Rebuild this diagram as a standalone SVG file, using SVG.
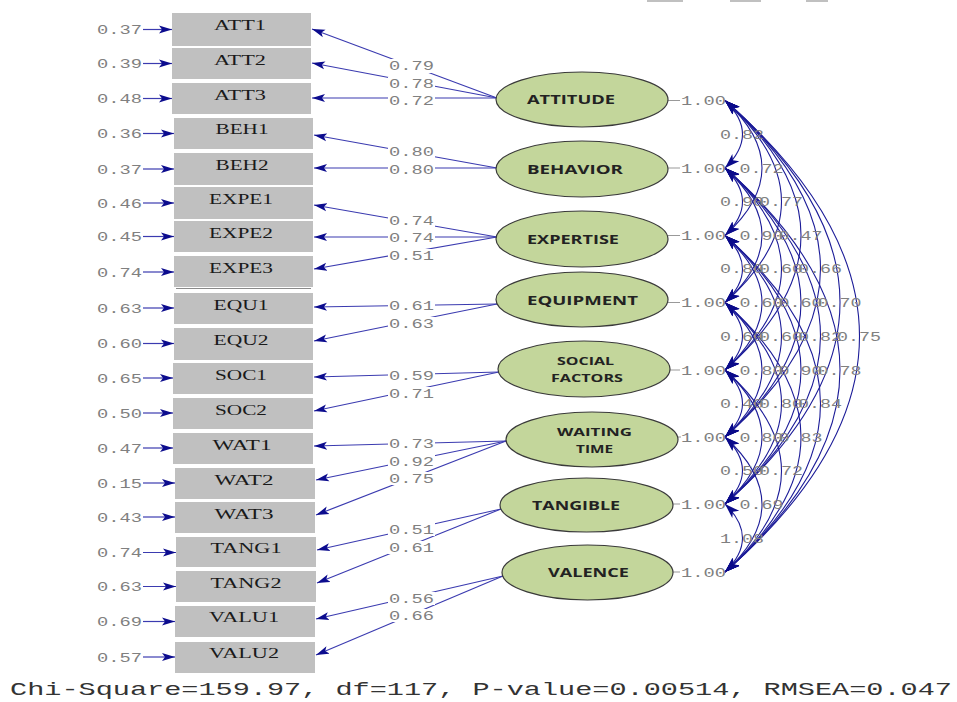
<svg xmlns="http://www.w3.org/2000/svg" width="957" height="702" viewBox="0 0 957 702">
<style>
.box{fill:#c0c0c0}
.bl{font-family:"Liberation Serif","Times New Roman",serif;font-size:14.5px;fill:#1a1a1a;text-anchor:middle}
.num{font-family:"Liberation Mono","Courier New",monospace;font-size:13px;fill:#808080}
.lat{fill:#c3d69b;stroke:#3a3a3a;stroke-width:1.2}
.lt{font-family:"Open Sans","Liberation Sans",Arial,sans-serif;font-weight:700;font-size:13px;fill:#222}
.lts{font-family:"Open Sans","Liberation Sans",Arial,sans-serif;font-weight:700;font-size:11px;fill:#222}
.ld{stroke:#3b3bb0;stroke-width:1.2;fill:none}
.cv{stroke:#1c1c98;stroke-width:1.1;fill:none}
.var{stroke:#999;stroke-width:1}
.bg{fill:#fff}
</style>
<defs>
<marker id="ah" markerWidth="14" markerHeight="9" refX="13" refY="4.5" orient="auto-start-reverse" markerUnits="userSpaceOnUse"><path d="M0,0.5 L13,4.5 L0,8.5 L3,4.5 z" fill="#0c0c8e"/></marker>
<marker id="ahc" markerWidth="16" markerHeight="11" refX="15" refY="5.5" orient="auto-start-reverse" markerUnits="userSpaceOnUse"><path d="M0,0.5 L15,5.5 L0,10.5 L4,5.5 z" fill="#0a0a8a"/></marker>
</defs>
<rect class="box" x="647" y="0" width="36" height="2"/>
<rect class="box" x="730" y="0" width="31" height="2"/>
<rect class="box" x="806" y="0" width="22" height="2"/>
<g id="connectors">
<g class="ld" marker-end="url(#ah)">
<line x1="497" y1="98" x2="312" y2="29"/>
<line x1="497" y1="98" x2="312" y2="63"/>
<line x1="497" y1="98" x2="312" y2="98"/>
<line x1="497" y1="168" x2="314" y2="135"/>
<line x1="497" y1="168" x2="314" y2="168"/>
<line x1="497" y1="237" x2="314" y2="205"/>
<line x1="497" y1="237" x2="314" y2="237"/>
<line x1="497" y1="237" x2="314" y2="269"/>
<line x1="497" y1="304" x2="314" y2="307"/>
<line x1="497" y1="304" x2="314" y2="341"/>
<line x1="499" y1="372" x2="314" y2="377"/>
<line x1="499" y1="372" x2="314" y2="411"/>
<line x1="506" y1="441" x2="314" y2="446"/>
<line x1="506" y1="441" x2="316" y2="480"/>
<line x1="506" y1="441" x2="316" y2="515"/>
<line x1="501" y1="509" x2="317" y2="550"/>
<line x1="501" y1="509" x2="317" y2="583"/>
<line x1="503" y1="576" x2="316" y2="619"/>
<line x1="503" y1="576" x2="316" y2="655"/>
</g>
<g class="ld" marker-end="url(#ah)">
<line x1="143" y1="29.5" x2="172" y2="29.5"/>
<line x1="143" y1="63.5" x2="172" y2="63.5"/>
<line x1="143" y1="98.5" x2="172" y2="98.5"/>
<line x1="143" y1="133.5" x2="174" y2="133.5"/>
<line x1="143" y1="169" x2="174" y2="169"/>
<line x1="143" y1="203" x2="174" y2="203"/>
<line x1="143" y1="236.5" x2="174" y2="236.5"/>
<line x1="143" y1="272" x2="174" y2="272"/>
<line x1="143" y1="308" x2="174" y2="308"/>
<line x1="143" y1="343.5" x2="174" y2="343.5"/>
<line x1="143" y1="378" x2="173" y2="378"/>
<line x1="143" y1="413" x2="173" y2="413"/>
<line x1="143" y1="448" x2="173" y2="448"/>
<line x1="143" y1="483" x2="175" y2="483"/>
<line x1="143" y1="517" x2="175" y2="517"/>
<line x1="143" y1="552.5" x2="176" y2="552.5"/>
<line x1="143" y1="586.5" x2="176" y2="586.5"/>
<line x1="143" y1="621.5" x2="175" y2="621.5"/>
<line x1="143" y1="657" x2="175" y2="657"/>
</g>
<g class="var">
<line x1="668" y1="100.5" x2="680" y2="100.5"/>
<line x1="668" y1="168" x2="680" y2="168"/>
<line x1="668" y1="235.5" x2="680" y2="235.5"/>
<line x1="668" y1="302.5" x2="680" y2="302.5"/>
<line x1="670" y1="370" x2="680" y2="370"/>
<line x1="678" y1="437" x2="681" y2="437"/>
<line x1="673" y1="504" x2="680" y2="504"/>
<line x1="673" y1="572" x2="680" y2="572"/>
</g>
<g class="cv" marker-start="url(#ahc)" marker-end="url(#ahc)">
<path d="M725,100.5 Q760,134.25 725,168"/>
<path d="M725,100.5 Q799,168 725,235.5"/>
<path d="M725,100.5 Q838,201.5 725,302.5"/>
<path d="M725,100.5 Q877,235.25 725,370"/>
<path d="M725,100.5 Q916,268.75 725,437"/>
<path d="M725,100.5 Q955,302.25 725,504"/>
<path d="M725,100.5 Q994,336.25 725,572"/>
<path d="M725,168 Q760,201.75 725,235.5"/>
<path d="M725,168 Q799,235.25 725,302.5"/>
<path d="M725,168 Q838,269 725,370"/>
<path d="M725,168 Q877,302.5 725,437"/>
<path d="M725,168 Q916,336 725,504"/>
<path d="M725,168 Q955,370 725,572"/>
<path d="M725,235.5 Q760,269 725,302.5"/>
<path d="M725,235.5 Q799,302.75 725,370"/>
<path d="M725,235.5 Q838,336.25 725,437"/>
<path d="M725,235.5 Q877,369.75 725,504"/>
<path d="M725,235.5 Q916,403.75 725,572"/>
<path d="M725,302.5 Q760,336.25 725,370"/>
<path d="M725,302.5 Q799,369.75 725,437"/>
<path d="M725,302.5 Q838,403.25 725,504"/>
<path d="M725,302.5 Q877,437.25 725,572"/>
<path d="M725,370 Q760,403.5 725,437"/>
<path d="M725,370 Q799,437 725,504"/>
<path d="M725,370 Q838,471 725,572"/>
<path d="M725,437 Q760,470.5 725,504"/>
<path d="M725,437 Q799,504.5 725,572"/>
<path d="M725,504 Q760,538 725,572"/>
</g>
</g>
<g id="error-labels" class="num">
<text x="97" y="34" textLength="45" lengthAdjust="spacingAndGlyphs">0.37</text>
<text x="97" y="68" textLength="45" lengthAdjust="spacingAndGlyphs">0.39</text>
<text x="97" y="103" textLength="45" lengthAdjust="spacingAndGlyphs">0.48</text>
<text x="97" y="138" textLength="45" lengthAdjust="spacingAndGlyphs">0.36</text>
<text x="97" y="173.5" textLength="45" lengthAdjust="spacingAndGlyphs">0.37</text>
<text x="97" y="207.5" textLength="45" lengthAdjust="spacingAndGlyphs">0.46</text>
<text x="97" y="241" textLength="45" lengthAdjust="spacingAndGlyphs">0.45</text>
<text x="97" y="276.5" textLength="45" lengthAdjust="spacingAndGlyphs">0.74</text>
<text x="97" y="312.5" textLength="45" lengthAdjust="spacingAndGlyphs">0.63</text>
<text x="97" y="348" textLength="45" lengthAdjust="spacingAndGlyphs">0.60</text>
<text x="97" y="382.5" textLength="45" lengthAdjust="spacingAndGlyphs">0.65</text>
<text x="97" y="417.5" textLength="45" lengthAdjust="spacingAndGlyphs">0.50</text>
<text x="97" y="452.5" textLength="45" lengthAdjust="spacingAndGlyphs">0.47</text>
<text x="97" y="487.5" textLength="45" lengthAdjust="spacingAndGlyphs">0.15</text>
<text x="97" y="521.5" textLength="45" lengthAdjust="spacingAndGlyphs">0.43</text>
<text x="97" y="557" textLength="45" lengthAdjust="spacingAndGlyphs">0.74</text>
<text x="97" y="591" textLength="45" lengthAdjust="spacingAndGlyphs">0.63</text>
<text x="97" y="626" textLength="45" lengthAdjust="spacingAndGlyphs">0.69</text>
<text x="97" y="661.5" textLength="45" lengthAdjust="spacingAndGlyphs">0.57</text>
</g>
<g id="loading-labels">
<g class="bg">
<rect x="388" y="59" width="47" height="14"/>
<rect x="388" y="77" width="47" height="13"/>
<rect x="388" y="94" width="47" height="13"/>
<rect x="388" y="145" width="47" height="13"/>
<rect x="388" y="163" width="47" height="13"/>
<rect x="388" y="214" width="47" height="13"/>
<rect x="388" y="231" width="47" height="13"/>
<rect x="388" y="249" width="47" height="13"/>
<rect x="388" y="299" width="47" height="13"/>
<rect x="388" y="317" width="47" height="13"/>
<rect x="388" y="369" width="47" height="13"/>
<rect x="388" y="387" width="47" height="13"/>
<rect x="388" y="437" width="47" height="13"/>
<rect x="388" y="455" width="47" height="13"/>
<rect x="388" y="472" width="47" height="13"/>
<rect x="388" y="523" width="47" height="13"/>
<rect x="388" y="541" width="47" height="13"/>
<rect x="388" y="592" width="47" height="13"/>
<rect x="388" y="609" width="47" height="13"/>
</g>
<g class="num">
<text x="389" y="70" textLength="45" lengthAdjust="spacingAndGlyphs">0.79</text>
<text x="389" y="87.5" textLength="45" lengthAdjust="spacingAndGlyphs">0.78</text>
<text x="389" y="104.5" textLength="45" lengthAdjust="spacingAndGlyphs">0.72</text>
<text x="389" y="155.5" textLength="45" lengthAdjust="spacingAndGlyphs">0.80</text>
<text x="389" y="173.5" textLength="45" lengthAdjust="spacingAndGlyphs">0.80</text>
<text x="389" y="224.5" textLength="45" lengthAdjust="spacingAndGlyphs">0.74</text>
<text x="389" y="241.5" textLength="45" lengthAdjust="spacingAndGlyphs">0.74</text>
<text x="389" y="259.5" textLength="45" lengthAdjust="spacingAndGlyphs">0.51</text>
<text x="389" y="309.5" textLength="45" lengthAdjust="spacingAndGlyphs">0.61</text>
<text x="389" y="327.5" textLength="45" lengthAdjust="spacingAndGlyphs">0.63</text>
<text x="389" y="379.5" textLength="45" lengthAdjust="spacingAndGlyphs">0.59</text>
<text x="389" y="397.5" textLength="45" lengthAdjust="spacingAndGlyphs">0.71</text>
<text x="389" y="447.5" textLength="45" lengthAdjust="spacingAndGlyphs">0.73</text>
<text x="389" y="465.5" textLength="45" lengthAdjust="spacingAndGlyphs">0.92</text>
<text x="389" y="482.5" textLength="45" lengthAdjust="spacingAndGlyphs">0.75</text>
<text x="389" y="533.5" textLength="45" lengthAdjust="spacingAndGlyphs">0.51</text>
<text x="389" y="551.5" textLength="45" lengthAdjust="spacingAndGlyphs">0.61</text>
<text x="389" y="602.5" textLength="45" lengthAdjust="spacingAndGlyphs">0.56</text>
<text x="389" y="619.5" textLength="45" lengthAdjust="spacingAndGlyphs">0.66</text>
</g>
</g>
<g id="variance-labels" class="num">
<text x="681" y="105" textLength="45" lengthAdjust="spacingAndGlyphs">1.00</text>
<text x="681" y="172.5" textLength="45" lengthAdjust="spacingAndGlyphs">1.00</text>
<text x="681" y="240" textLength="45" lengthAdjust="spacingAndGlyphs">1.00</text>
<text x="681" y="307" textLength="45" lengthAdjust="spacingAndGlyphs">1.00</text>
<text x="681" y="374.5" textLength="45" lengthAdjust="spacingAndGlyphs">1.00</text>
<text x="681" y="441.5" textLength="45" lengthAdjust="spacingAndGlyphs">1.00</text>
<text x="681" y="508.5" textLength="45" lengthAdjust="spacingAndGlyphs">1.00</text>
<text x="681" y="576.5" textLength="45" lengthAdjust="spacingAndGlyphs">1.00</text>
</g>
<g id="correlation-labels" class="num">
<text x="720" y="138.5" textLength="44" lengthAdjust="spacingAndGlyphs">0.82</text>
<text x="739.5" y="172.5" textLength="44" lengthAdjust="spacingAndGlyphs">0.72</text>
<text x="720" y="206" textLength="44" lengthAdjust="spacingAndGlyphs">0.90</text>
<text x="759" y="206" textLength="44" lengthAdjust="spacingAndGlyphs">0.77</text>
<text x="739.5" y="239.5" textLength="44" lengthAdjust="spacingAndGlyphs">0.90</text>
<text x="778.5" y="239.5" textLength="44" lengthAdjust="spacingAndGlyphs">0.47</text>
<text x="720" y="273" textLength="44" lengthAdjust="spacingAndGlyphs">0.80</text>
<text x="759" y="273" textLength="44" lengthAdjust="spacingAndGlyphs">0.60</text>
<text x="798" y="273" textLength="44" lengthAdjust="spacingAndGlyphs">0.66</text>
<text x="739.5" y="307" textLength="44" lengthAdjust="spacingAndGlyphs">0.60</text>
<text x="778.5" y="307" textLength="44" lengthAdjust="spacingAndGlyphs">0.60</text>
<text x="817.5" y="307" textLength="44" lengthAdjust="spacingAndGlyphs">0.70</text>
<text x="720" y="340.5" textLength="44" lengthAdjust="spacingAndGlyphs">0.60</text>
<text x="759" y="340.5" textLength="44" lengthAdjust="spacingAndGlyphs">0.60</text>
<text x="798" y="340.5" textLength="44" lengthAdjust="spacingAndGlyphs">0.82</text>
<text x="837" y="340.5" textLength="44" lengthAdjust="spacingAndGlyphs">0.75</text>
<text x="739.5" y="374.5" textLength="44" lengthAdjust="spacingAndGlyphs">0.80</text>
<text x="778.5" y="374.5" textLength="44" lengthAdjust="spacingAndGlyphs">0.90</text>
<text x="817.5" y="374.5" textLength="44" lengthAdjust="spacingAndGlyphs">0.78</text>
<text x="720" y="408" textLength="44" lengthAdjust="spacingAndGlyphs">0.40</text>
<text x="759" y="408" textLength="44" lengthAdjust="spacingAndGlyphs">0.80</text>
<text x="798" y="408" textLength="44" lengthAdjust="spacingAndGlyphs">0.84</text>
<text x="739.5" y="441.5" textLength="44" lengthAdjust="spacingAndGlyphs">0.80</text>
<text x="778.5" y="441.5" textLength="44" lengthAdjust="spacingAndGlyphs">0.83</text>
<text x="720" y="475" textLength="44" lengthAdjust="spacingAndGlyphs">0.50</text>
<text x="759" y="475" textLength="44" lengthAdjust="spacingAndGlyphs">0.72</text>
<text x="739.5" y="509" textLength="44" lengthAdjust="spacingAndGlyphs">0.69</text>
<text x="720" y="542.5" textLength="44" lengthAdjust="spacingAndGlyphs">1.08</text>
</g>
<g id="ATT1"><rect class="box" x="172" y="13" width="139" height="33"/><text class="bl" x="240" y="30" textLength="52" lengthAdjust="spacingAndGlyphs">ATT1</text></g>
<g id="ATT2"><rect class="box" x="172" y="48" width="139" height="31"/><text class="bl" x="240" y="64.5" textLength="52" lengthAdjust="spacingAndGlyphs">ATT2</text></g>
<g id="ATT3"><rect class="box" x="172" y="83" width="139" height="31"/><text class="bl" x="240" y="99.5" textLength="52" lengthAdjust="spacingAndGlyphs">ATT3</text></g>
<g id="BEH1"><rect class="box" x="174" y="118" width="139" height="31"/><text class="bl" x="242" y="134" textLength="53" lengthAdjust="spacingAndGlyphs">BEH1</text></g>
<g id="BEH2"><rect class="box" x="174" y="153" width="139" height="32"/><text class="bl" x="242" y="169.5" textLength="53" lengthAdjust="spacingAndGlyphs">BEH2</text></g>
<g id="EXPE1"><rect class="box" x="174" y="187" width="139" height="32"/><text class="bl" x="241" y="203.5" textLength="64" lengthAdjust="spacingAndGlyphs">EXPE1</text></g>
<g id="EXPE2"><rect class="box" x="174" y="221" width="139" height="31"/><text class="bl" x="241" y="237.5" textLength="64" lengthAdjust="spacingAndGlyphs">EXPE2</text></g>
<g id="EXPE3"><rect class="box" x="174" y="256" width="139" height="31"/><line x1="176" y1="288.5" x2="311" y2="288.5" stroke="#8a8a8a" stroke-width="1"/><text class="bl" x="241" y="272.5" textLength="64" lengthAdjust="spacingAndGlyphs">EXPE3</text></g>
<g id="EQU1"><rect class="box" x="174" y="293" width="139" height="31"/><text class="bl" x="241" y="309.5" textLength="55" lengthAdjust="spacingAndGlyphs">EQU1</text></g>
<g id="EQU2"><rect class="box" x="174" y="328" width="139" height="32"/><text class="bl" x="241" y="344.5" textLength="55" lengthAdjust="spacingAndGlyphs">EQU2</text></g>
<g id="SOC1"><rect class="box" x="173" y="363" width="140" height="31"/><text class="bl" x="241" y="379.5" textLength="52" lengthAdjust="spacingAndGlyphs">SOC1</text></g>
<g id="SOC2"><rect class="box" x="173" y="398" width="140" height="31"/><text class="bl" x="241" y="414.5" textLength="52" lengthAdjust="spacingAndGlyphs">SOC2</text></g>
<g id="WAT1"><rect class="box" x="173" y="433" width="140" height="31"/><text class="bl" x="242" y="449.5" textLength="59" lengthAdjust="spacingAndGlyphs">WAT1</text></g>
<g id="WAT2"><rect class="box" x="175" y="468" width="140" height="31"/><text class="bl" x="244" y="484.5" textLength="59" lengthAdjust="spacingAndGlyphs">WAT2</text></g>
<g id="WAT3"><rect class="box" x="175" y="502" width="140" height="31"/><text class="bl" x="244" y="518.5" textLength="59" lengthAdjust="spacingAndGlyphs">WAT3</text></g>
<g id="TANG1"><rect class="box" x="176" y="537" width="140" height="30"/><text class="bl" x="246" y="553" textLength="71" lengthAdjust="spacingAndGlyphs">TANG1</text></g>
<g id="TANG2"><rect class="box" x="176" y="571" width="140" height="31"/><text class="bl" x="246" y="587.5" textLength="71" lengthAdjust="spacingAndGlyphs">TANG2</text></g>
<g id="VALU1"><rect class="box" x="175" y="606" width="140" height="31"/><text class="bl" x="244" y="622" textLength="70" lengthAdjust="spacingAndGlyphs">VALU1</text></g>
<g id="VALU2"><rect class="box" x="175" y="642" width="140" height="31"/><text class="bl" x="244" y="658" textLength="70" lengthAdjust="spacingAndGlyphs">VALU2</text></g>
<g id="ATTITUDE"><ellipse class="lat" cx="582" cy="99.5" rx="86" ry="27.5"/><text class="lt" x="527" y="104" textLength="88" lengthAdjust="spacingAndGlyphs">ATTITUDE</text></g>
<g id="BEHAVIOR"><ellipse class="lat" cx="582" cy="169" rx="86" ry="28"/><text class="lt" x="527" y="173.5" textLength="96" lengthAdjust="spacingAndGlyphs">BEHAVIOR</text></g>
<g id="EXPERTISE"><ellipse class="lat" cx="582" cy="239" rx="86" ry="28"/><text class="lt" x="527" y="243.5" textLength="92" lengthAdjust="spacingAndGlyphs">EXPERTISE</text></g>
<g id="EQUIPMENT"><ellipse class="lat" cx="582" cy="299.5" rx="86" ry="27.5"/><text class="lt" x="527" y="305" textLength="111" lengthAdjust="spacingAndGlyphs">EQUIPMENT</text></g>
<g id="SOCIAL_FACTORS"><ellipse class="lat" cx="584" cy="369" rx="86" ry="28"/><text class="lts" x="557" y="365" textLength="57" lengthAdjust="spacingAndGlyphs">SOCIAL</text><text class="lts" x="551" y="382" textLength="72" lengthAdjust="spacingAndGlyphs">FACTORS</text></g>
<g id="WAITING_TIME"><ellipse class="lat" cx="592" cy="439.5" rx="86" ry="27.5"/><text class="lts" x="557" y="436" textLength="75" lengthAdjust="spacingAndGlyphs">WAITING</text><text class="lts" x="576" y="453" textLength="37" lengthAdjust="spacingAndGlyphs">TIME</text></g>
<g id="TANGIBLE"><ellipse class="lat" cx="586.5" cy="505" rx="86.5" ry="27"/><text class="lt" x="532" y="510" textLength="88" lengthAdjust="spacingAndGlyphs">TANGIBLE</text></g>
<g id="VALENCE"><ellipse class="lat" cx="587.5" cy="572.5" rx="85.5" ry="27.5"/><text class="lt" x="548" y="577" textLength="81" lengthAdjust="spacingAndGlyphs">VALENCE</text></g>
<text x="10" y="695" font-family="Liberation Mono, Courier New, monospace" font-size="19" fill="#333" textLength="942" lengthAdjust="spacingAndGlyphs">Chi-Square=159.97, df=117, P-value=0.00514, RMSEA=0.047</text>
</svg>
